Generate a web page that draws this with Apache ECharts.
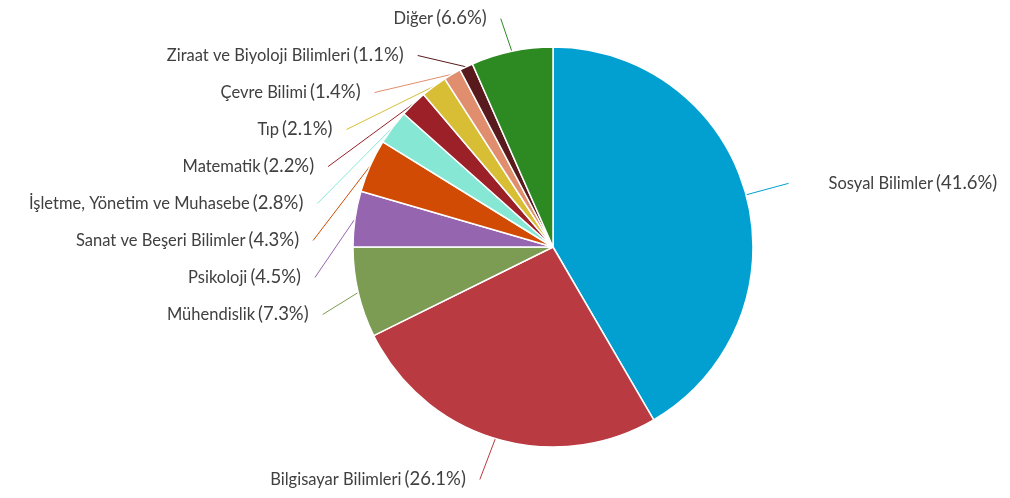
<!DOCTYPE html>
<html>
<head>
<meta charset="utf-8">
<script src="https://cdn.jsdelivr.net/npm/echarts@6/dist/echarts.min.js"></script>
<style>
html,body{margin:0;padding:0;background:#fff;}
#chart{width:1010px;height:498px;}
</style>
</head>
<body>
<div id="chart"></div>
<script>
const categories = ["Sosyal Bilimler", "Bilgisayar Bilimleri", "Mühendislik", "Psikoloji", "Sanat ve Beşeri Bilimler", "İşletme, Yönetim ve Muhasebe", "Matematik", "Tıp", "Çevre Bilimi", "Ziraat ve Biyoloji Bilimleri", "Diğer"];
const values = [41.6, 26.1, 7.3, 4.5, 4.3, 2.8, 2.2, 2.1, 1.4, 1.1, 6.6];
const colors = ["#01A0D1", "#B93A40", "#7D9C53", "#9565B0", "#D24B04", "#86E8D4", "#9B2028", "#D8BE35", "#E08E6E", "#581A1C", "#2D8A22"];

const chart = echarts.init(document.getElementById('chart'), null, {renderer: 'canvas'});
chart.setOption({
  animation: false,
  backgroundColor: '#ffffff',
  series: [{
    type: 'pie',
    center: [553, 247],
    radius: [0, 200],
    startAngle: 90,
    clockwise: true,
    avoidLabelOverlap: true,
    itemStyle: {borderColor: '#ffffff', borderWidth: 1.5},
    data: categories.map((c, i) => ({
      name: c, value: values[i],
      itemStyle: {color: colors[i]},
      label: i === 0 ? {distanceToLabelLine: 40} : undefined,
      labelLine: i === 0 ? {length: 44, lineStyle: {color: colors[i]}} : {lineStyle: {color: colors[i]}}
    })),
    label: {
      show: true,
      position: 'outside',
      overflow: 'none',
      fontFamily: 'Lato, sans-serif',
      color: '#404040',
      distanceToLabelLine: 14,
      minMargin: 18,
      formatter: p => '{n|' + p.name + '} {p|(' + p.value.toFixed(1) + '%)}',
      rich: {
        n: {fontFamily: 'Lato, sans-serif', fontSize: 16.5, color: '#404040'},
        p: {fontFamily: 'Lato, sans-serif', fontSize: 18.5, color: '#404040'}
      }
    },
    labelLine: {show: true, length: 54, length2: 0, smooth: false, lineStyle: {width: 1}}
  }]
});
</script>
</body>
</html>
